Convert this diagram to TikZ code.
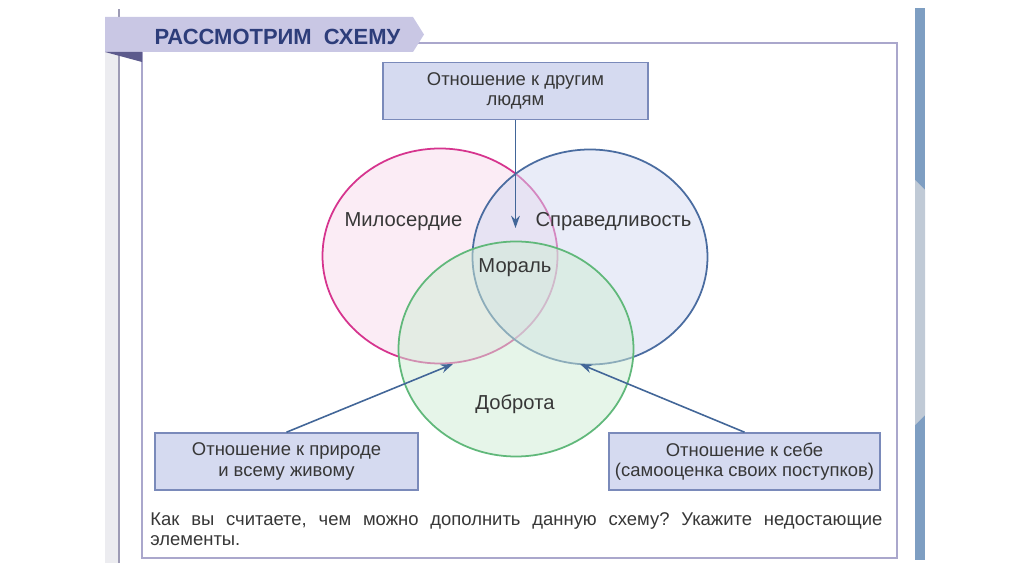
\documentclass[tikz,border=0pt]{standalone}
\usepackage{fontspec}
\setmainfont{Liberation Sans}
\usepackage{tikz}
\usetikzlibrary{arrows,arrows.meta,shapes,positioning}
\usepackage{xcolor}
\definecolor{schnavy}{RGB}{45,61,122}
\definecolor{schtab}{RGB}{201,199,228}
\definecolor{schfold}{RGB}{92,90,140}
\definecolor{schframe}{RGB}{170,167,204}
\definecolor{schbox}{RGB}{213,218,240}
\definecolor{schboxline}{RGB}{122,138,186}
\definecolor{schtext}{RGB}{55,55,55}
\definecolor{scharrow}{RGB}{66,102,152}
\definecolor{schpink}{RGB}{214,52,142}
\definecolor{schpinkfill}{RGB}{249,218,237}
\definecolor{schblue}{RGB}{74,108,160}
\definecolor{schbluefill}{RGB}{212,219,243}
\definecolor{schgreen}{RGB}{96,184,122}
\definecolor{schgreenfill}{RGB}{206,236,212}
\definecolor{schbar}{RGB}{126,158,194}
\definecolor{schbarlight}{RGB}{192,202,214}
\definecolor{schstrip}{RGB}{236,236,240}
\tikzstyle{arrow} = [line width=0.9pt,->,>={Stealth[length=7pt,width=5pt]},color=scharrow]
\tikzstyle{txbox} = [rectangle, minimum width=5.3cm, minimum height=1.14cm, align=center, text centered, draw=schboxline, line width=0.9pt, fill=schbox, text=schtext, font=\fontsize{10.5}{11.5}\selectfont]
\tikzstyle{ring} = [ellipse, minimum width=4.7cm, minimum height=4.3cm, line width=1pt, fill opacity=0.5, draw opacity=1]
\tikzstyle{ringlabel} = [text=schtext, font=\fontsize{11.5}{13}\selectfont]

\begin{document}
\frenchspacing
\begin{tikzpicture}
\useasboundingbox (0,0) rectangle (20.48,11.48);
% Page edges
\fill[schstrip] (2.10,0.22) rectangle (2.38,10.44);
\draw[color=schframe!70!gray, line width=0.6pt] (2.38,0.22) -- (2.38,11.30);
\fill[schbar] (18.30,0.28) rectangle (18.50,11.32);
\fill[schbarlight] (18.30,2.98) -- (18.50,3.18) -- (18.50,7.68) -- (18.30,7.88) -- cycle;

% Frame and title tab
\draw[color=schframe, line width=1pt, fill=white] (2.84,0.32) rectangle (17.94,10.62);
\fill[schtab] (2.10,11.14) -- (8.26,11.14) -- (8.48,10.79) -- (8.26,10.44) -- (2.10,10.44) -- cycle;
\fill[schfold] (2.10,10.44) -- (2.84,10.44) -- (2.84,10.24) -- cycle;
\node[text=schnavy, font=\fontsize{12.5}{14}\bfseries] (title) at (5.55,10.74) {РАССМОТРИМ\ \ СХЕМУ};

% Circles
\node[ring, draw=schpink, fill=schpinkfill] (mercy) at (8.80,6.36) {};
\node[ring, draw=schblue, fill=schbluefill] (justice) at (11.80,6.34) {};
\node[ring, draw=schgreen, fill=schgreenfill] (kindness) at (10.32,4.50) {};

\node[ringlabel] (mercylbl) at (8.07,7.04) {Милосердие};
\node[ringlabel] (justicelbl) at (12.27,7.04) {Справедливость};
\node[ringlabel] (morallbl) at (10.30,6.12) {Мораль};
\node[ringlabel] (kindnesslbl) at (10.30,3.40) {Доброта};

% Boxes
\node[txbox] at (10.31,9.66) (others) {Отношение к другим\\людям};
\node[txbox, minimum width=5.26cm] at (5.73,2.25) (nature) {Отношение к природе\\и всему живому};
\node[txbox, minimum width=5.28cm] at (14.89,2.25) (self) {Отношение к себе\\(самооценка своих поступков)};

% Arrows
\coordinate (othertip) at (10.31,6.92);
\coordinate (naturetip) at (9.06,4.20);
\coordinate (selftip) at (11.60,4.20);
\draw[arrow] (others.south) -- (othertip);
\draw[arrow] (nature.north) -- (naturetip);
\draw[arrow] (self.north) -- (selftip);

% Question
\node[anchor=north west, inner sep=0pt, text width=14.64cm, align=justify, text=schtext, font=\fontsize{10.5}{11.4}\selectfont] (question) at (3.00,1.24) {Как вы считаете, чем можно дополнить данную схему? Укажите недостающие\linebreak элементы.};
\end{tikzpicture}
\end{document}
